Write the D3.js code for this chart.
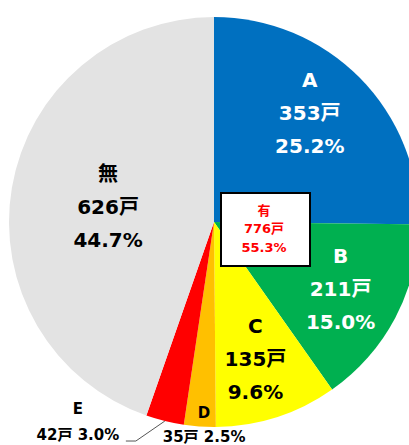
<!DOCTYPE html>
<meta charset="utf-8">
<style>
body { margin: 0; background: #fff; }
svg text {
  font-family: "DejaVu Sans", "Noto Sans CJK JP", sans-serif;
  font-weight: bold;
  text-anchor: middle;
  dominant-baseline: central;
}
</style>
<svg class="chart"></svg>
<script src="https://cdn.jsdelivr.net/npm/d3@7"></script>
<script>

var names   = ["A", "B", "C", "D", "E", "無"];
var counts  = [353, 211, 135, 35, 42, 626];
var percents = ["25.2%", "15.0%", "9.6%", "2.5%", "3.0%", "44.7%"];
var colors  = ["#0070C0", "#00B050", "#FFFF00", "#FFC000", "#FF0000", "#E3E3E3"];
var textColors = ["#fff", "#fff", "#000", "#000", "#000", "#000"];

var totalLabel = ["有", "776戸", "55.3%"];

var width = 409, height = 445,
    cx = 214, cy = 222, radius = 205;

var data = names.map(function(n, i) {
  return {name: n, count: counts[i], pct: percents[i], color: colors[i], tc: textColors[i]};
});

var svg = d3.select(".chart")
  .attr("width", width)
  .attr("height", height);

var g = svg.append("g")
  .attr("transform", "translate(" + cx + "," + cy + ")");

var pie = d3.pie()
  .sort(null)
  .value(function(d) { return d.count; });

var arc = d3.arc()
  .innerRadius(0)
  .outerRadius(radius);

var arcs = pie(data);

g.selectAll("path")
  .data(arcs)
  .enter().append("path")
  .attr("d", arc)
  .attr("fill", function(d) { return d.data.color; });

// inside labels for the big slices
var labelR = {A: 145, B: 143, C: 143, "無": 107};
var angleShift = {A: -4 * Math.PI / 180, B: 0, C: 1 * Math.PI / 180, "無": -1.5 * Math.PI / 180};

function polar(r, a) { return [r * Math.sin(a), -r * Math.cos(a)]; }

arcs.filter(function(d) { return labelR[d.data.name]; }).forEach(function(d) {
  var a = (d.startAngle + d.endAngle) / 2 + angleShift[d.data.name];
  var p = polar(labelR[d.data.name], a);
  var lg = g.append("g").attr("transform", "translate(" + p[0] + "," + p[1] + ")");
  [d.data.name, d.data.count + "戸", d.data.pct].forEach(function(t, i) {
    lg.append("text")
      .attr("y", (i - 1) * 33)
      .style("font-size", "20px")
      .attr("fill", d.data.tc)
      .text(t);
  });
});

// D label: letter inside the slice edge, values below
var dArc = arcs[3];
var dp = polar(191, (dArc.startAngle + dArc.endAngle) / 2 - 1 * Math.PI / 180);
g.append("text").attr("x", dp[0]).attr("y", dp[1])
  .style("font-size", "15px").text(dArc.data.name);
g.append("text").attr("x", dp[0]).attr("y", dp[1] + 24)
  .style("font-size", "15px").text(dArc.data.count + "戸 " + dArc.data.pct);

// E label: outside with leader line
var eArc = arcs[4];
var ep = polar(radius, (eArc.startAngle + eArc.endAngle) / 2);
g.append("polyline")
  .attr("points", [ep, [ep[0] - 29, ep[1] + 20], [ep[0] - 39, ep[1] + 20]].map(function(p) { return p.join(","); }).join(" "))
  .attr("fill", "none")
  .attr("stroke", "#555")
  .attr("stroke-width", 1);
g.append("text").attr("x", ep[0] - 87).attr("y", ep[1] - 12)
  .style("font-size", "15px").text(eArc.data.name);
g.append("text").attr("x", ep[0] - 87).attr("y", ep[1] + 14)
  .style("font-size", "15px").text(eArc.data.count + "戸 " + eArc.data.pct);

// total box
var box = svg.append("g").attr("transform", "translate(221,193)");
box.append("rect")
  .attr("width", 89).attr("height", 73)
  .attr("fill", "#fff")
  .attr("stroke", "#000")
  .attr("stroke-width", 2);
totalLabel.forEach(function(t, i) {
  box.append("text")
    .attr("x", 43).attr("y", 17 + i * 18.5)
    .style("font-size", "13px")
    .attr("fill", "#FF0000")
    .text(t);
});

</script>
